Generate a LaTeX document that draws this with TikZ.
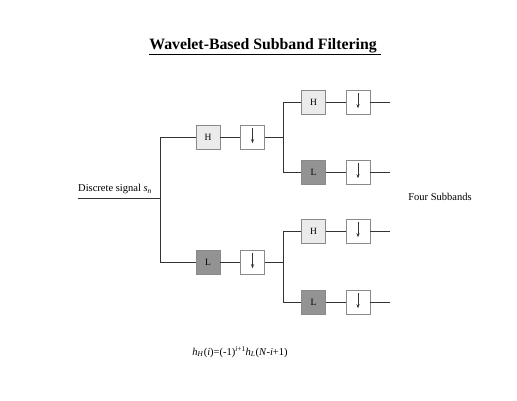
\documentclass[tikz,border=0pt]{standalone}
\usepackage{fontspec}
\setmainfont{Liberation Serif}
\usepackage{tikz}
\usetikzlibrary{positioning,arrows.meta,calc}

\definecolor{hfill}{HTML}{EBEBEB}
\definecolor{lfill}{HTML}{939393}
\definecolor{edge}{HTML}{8A8A8A}
\definecolor{wire}{HTML}{333333}

\begin{document}
\begin{tikzpicture}[
    x=1pt, y=1pt,
    font=\fontsize{10.5}{12}\selectfont,
    node distance=20pt,
    >={Stealth[length=4pt,width=3pt]},
    filt/.style={draw=edge, line width=0.5pt, minimum size=24pt, inner sep=0pt, font=\fontsize{9.5}{10}\selectfont},
    hbox/.style={filt, fill=hfill},
    lbox/.style={filt, fill=lfill},
    dbox/.style={filt, fill=white},
    wire/.style={draw=wire, line width=0.8pt}
]
\useasboundingbox (0,0) rectangle (517,400);

% title
\node[font=\fontsize{15.8}{18}\selectfont\bfseries] (title) at (265,353) {\underline{Wavelet-Based Subband Filtering\ }};

% input signal
\coordinate (src) at (78,202);
\coordinate (split) at (160,202);
\node[anchor=south east, inner sep=1pt] (srclabel) at (153,205) {Discrete signal \textit{s}\textsubscript{\textit{n}}};

% first stage
\node[hbox] (h1) at (208,263) {H};
\node[dbox, right=of h1] (d1) {};
\node[lbox] (l1) at (208,138) {L};
\node[dbox, right=of l1] (d2) {};
\coordinate[right=19pt of d1] (j1);
\coordinate[right=19pt of d2] (j2);

% second stage, upper branch
\node[hbox] (h11) at (313.5,298) {H};
\node[dbox, right=of h11] (d11) {};
\node[lbox] (l11) at (313.5,228) {L};
\node[dbox, right=of l11] (d12) {};

% second stage, lower branch
\node[hbox] (h21) at (313.5,169) {H};
\node[dbox, right=of h21] (d21) {};
\node[lbox] (l21) at (313.5,98) {L};
\node[dbox, right=of l21] (d22) {};

% outputs
\coordinate[right=of d11] (o1);
\coordinate[right=of d12] (o2);
\coordinate[right=of d21] (o3);
\coordinate[right=of d22] (o4);
\node (bands) at (440,203) {Four Subbands};

% formula
\node (rule) at (240,48) {\textit{h}\textsubscript{\textit{H}}(\textit{i})=(-1)\textsuperscript{\textit{i}+1}\textit{h}\textsubscript{\textit{L}}(\textit{N}-\textit{i}+1)};

% wires
\draw[wire] (src) -- (split);
\draw[wire] (h1.west) -- (h1.west -| split) -- (l1.west -| split) -- (l1.west);
\draw[wire] (h1) -- (d1);
\draw[wire] (l1) -- (d2);
\draw[wire] (d1) -- (j1);
\draw[wire] (d2) -- (j2);
\draw[wire] (h11.west) -- (h11.west -| j1) -- (l11.west -| j1) -- (l11.west);
\draw[wire] (h21.west) -- (h21.west -| j2) -- (l21.west -| j2) -- (l21.west);
\foreach \a/\b/\o in {h11/d11/o1, l11/d12/o2, h21/d21/o3, l21/d22/o4} {
  \draw[wire] (\a) -- (\b);
  \draw[wire] (\b) -- (\o);
}

% downsampling arrows
\foreach \d in {d1,d2,d11,d12,d21,d22} {
  \draw[wire, line width=0.6pt, ->] ([yshift=-3pt]\d.north) -- ([yshift=6pt]\d.south);
}

\end{tikzpicture}
\end{document}
